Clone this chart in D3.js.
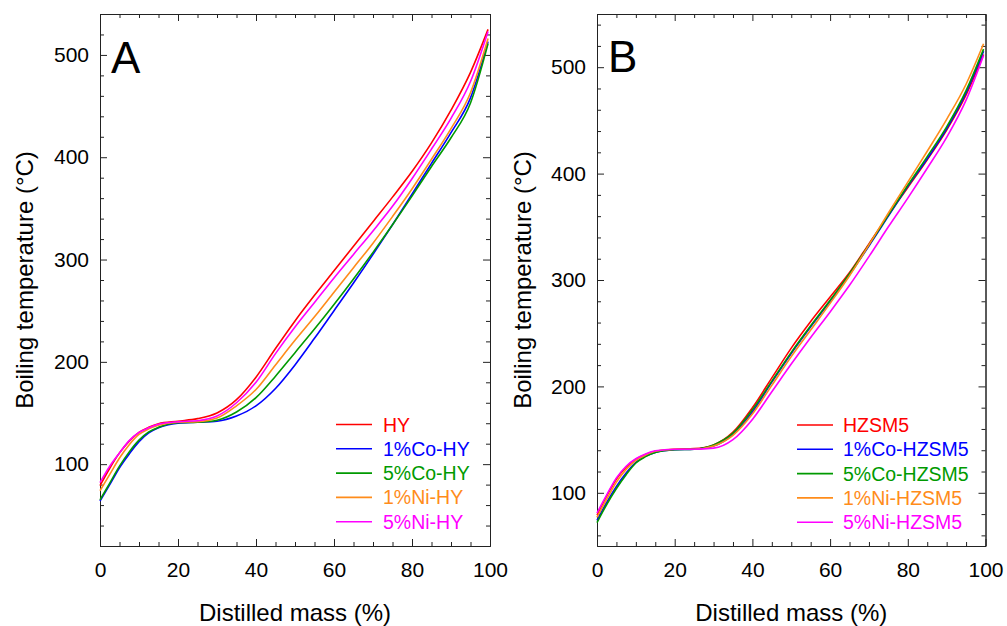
<!DOCTYPE html>
<html>
<head>
<meta charset="utf-8">
<script src="https://cdn.jsdelivr.net/npm/d3@7"></script>
<style>
  body { margin: 0; background: #fff; }
  svg { display: block; font-family: "Liberation Sans", Arial, sans-serif; }
</style>
</head>
<body>
<div class="canva"></div>
<script>
// distilled mass (%) sample points shared by all curves
const mass = [0, 2.5, 5, 7.5, 10, 12.5, 15, 20, 25, 30, 35, 40, 45, 50, 55, 60, 65, 70, 75, 80, 85, 90, 95, 99.5];

// panel A boiling temperatures (°C)
const hy    = [79, 96, 111, 122.5, 131, 136, 139.5, 142, 144.5, 150, 163, 185, 213, 240, 265, 289, 313, 337, 361, 386, 414, 446, 483, 525];
const co1Hy = [64, 80, 96.5, 110, 122, 130.5, 135.5, 140, 141, 142, 147, 157, 174, 197, 223, 250, 277, 305, 334, 364, 394, 424, 458, 513];
const co5Hy = [65, 81.5, 98, 112, 123.5, 131.5, 136, 140.5, 141, 143, 151, 165, 186, 209, 232, 256, 281, 307, 334, 362, 391, 419, 453, 511];
const ni1Hy = [74, 90, 106, 119, 129, 134.5, 138, 141, 141.5, 145, 157, 173, 197, 221, 244, 268, 292, 316, 342, 369, 398, 428, 463, 516];
const ni5Hy = [82, 98, 111, 123, 131, 135.5, 139, 141.5, 142.5, 147, 160, 180, 208, 234, 258, 282, 305, 328, 352, 379, 408, 438, 474, 523];

// panel B boiling temperatures (°C)
const hzsm5    = [79, 97, 113, 124, 131.5, 136, 139, 141, 141.5, 145, 157, 180, 208, 236, 261, 284, 307, 334, 361, 387, 413, 441, 474, 512];
const co1Hzsm5 = [74, 91, 106, 118.5, 128.5, 134.5, 138, 140.5, 141, 144, 155, 176, 204, 231, 256, 280, 305, 332, 360, 388, 414, 442, 476, 515];
const co5Hzsm5 = [72, 89, 104, 117, 128, 134, 138, 140.5, 141, 145, 156, 178, 205, 232, 257, 281, 306, 333, 361, 389, 416, 444, 478, 517];
const ni1Hzsm5 = [77, 94, 110, 122, 130.5, 135.5, 139, 141, 141, 144, 154, 174, 201, 228, 253, 278, 304, 333, 363, 392, 421, 451, 484, 522];
const ni5Hzsm5 = [81, 98, 114, 125, 132, 136.5, 139.5, 141, 141, 142, 150, 169, 195, 221, 246, 270, 295, 322, 350, 377, 405, 434, 469, 511];

const namesA = ["HY", "1%Co-HY", "5%Co-HY", "1%Ni-HY", "5%Ni-HY"];
const namesB = ["HZSM5", "1%Co-HZSM5", "5%Co-HZSM5", "1%Ni-HZSM5", "5%Ni-HZSM5"];
const colors = ["#ff0000", "#0000ff", "#009a00", "#ff8c1a", "#ff00ff"];

const xTicks = [0, 20, 40, 60, 80, 100];
const yTicks = [100, 200, 300, 400, 500];

const width = 1007, height = 626;
const font = "'Liberation Sans', Arial, sans-serif";

const svg = d3.select(".canva").append("svg")
    .attr("width", width)
    .attr("height", height)
    .attr("viewBox", [0, 0, width, height]);

const panels = [
    { letter: "A", left: 100, right: 490, top: 14, bottom: 546, yDomain: [20, 540],
      series: [hy, co1Hy, co5Hy, ni1Hy, ni5Hy], names: namesA,
      legend: { x: 336, y: 424.5, text: 383 }, ylabX: 33, letterX: 111, letterY: 73 },
    { letter: "B", left: 597, right: 985.5, top: 14, bottom: 546, yDomain: [50, 550],
      series: [hzsm5, co1Hzsm5, co5Hzsm5, ni1Hzsm5, ni5Hzsm5], names: namesB,
      legend: { x: 797, y: 425, text: 843 }, ylabX: 531, letterX: 608, letterY: 72 }
];

function styleAxis(g) {
    g.attr("font-family", font).attr("font-size", 21).attr("color", "#222");
    g.selectAll("text").attr("fill", "#000");
}

panels.forEach(p => {
    const x = d3.scaleLinear([0, 100], [p.left, p.right]);
    const y = d3.scaleLinear(p.yDomain, [p.bottom, p.top]);

    const minorX = d3.range(0, 101, 5).filter(v => v % 20 !== 0);
    const minorY = d3.range(Math.ceil(p.yDomain[0] / 20) * 20, p.yDomain[1] + 1, 20).filter(v => v % 100 !== 0);

    const g = svg.append("g");

    // bottom
    g.append("g").attr("transform", `translate(0,${p.bottom})`)
        .call(d3.axisBottom(x).tickValues(xTicks).tickSize(-7).tickSizeOuter(0).tickPadding(16))
        .call(styleAxis);
    g.append("g").attr("transform", `translate(0,${p.bottom})`)
        .call(d3.axisBottom(x).tickValues(minorX).tickSize(-4).tickSizeOuter(0).tickFormat(""))
        .call(styleAxis);
    // top
    g.append("g").attr("transform", `translate(0,${p.top})`)
        .call(d3.axisTop(x).tickValues(xTicks).tickSize(-7).tickSizeOuter(0).tickFormat(""))
        .call(styleAxis);
    g.append("g").attr("transform", `translate(0,${p.top})`)
        .call(d3.axisTop(x).tickValues(minorX).tickSize(-4).tickSizeOuter(0).tickFormat(""))
        .call(styleAxis);
    // left
    g.append("g").attr("transform", `translate(${p.left},0)`)
        .call(d3.axisLeft(y).tickValues(yTicks).tickSize(-7).tickSizeOuter(0).tickPadding(11))
        .call(styleAxis);
    g.append("g").attr("transform", `translate(${p.left},0)`)
        .call(d3.axisLeft(y).tickValues(minorY).tickSize(-4).tickSizeOuter(0).tickFormat(""))
        .call(styleAxis);
    // right
    g.append("g").attr("transform", `translate(${p.right},0)`)
        .call(d3.axisRight(y).tickValues(yTicks).tickSize(-7).tickSizeOuter(0).tickFormat(""))
        .call(styleAxis);
    g.append("g").attr("transform", `translate(${p.right},0)`)
        .call(d3.axisRight(y).tickValues(minorY).tickSize(-4).tickSizeOuter(0).tickFormat(""))
        .call(styleAxis);

    const line = d3.line()
        .x((d, i) => x(mass[i]))
        .y(d => y(d))
        .curve(d3.curveMonotoneX);

    g.append("g").selectAll("path")
        .data(p.series)
        .join("path")
        .attr("fill", "none")
        .attr("stroke", (d, i) => colors[i])
        .attr("stroke-width", 1.6)
        .attr("d", line);

    // legend
    const leg = g.append("g");
    p.names.forEach((name, i) => {
        const ly = p.legend.y + i * 24.3;
        leg.append("line")
            .attr("x1", p.legend.x).attr("x2", p.legend.x + 36)
            .attr("y1", ly).attr("y2", ly)
            .attr("stroke", colors[i]).attr("stroke-width", 1.6);
        leg.append("text")
            .attr("x", p.legend.text).attr("y", ly + 7)
            .attr("fill", colors[i])
            .attr("font-size", 19.5)
            .text(name);
    });

    // panel letter
    g.append("text")
        .attr("x", p.letterX).attr("y", p.letterY)
        .attr("font-size", 44)
        .text(p.letter);

    // axis titles
    g.append("text")
        .attr("x", (p.left + p.right) / 2).attr("y", 621)
        .attr("text-anchor", "middle")
        .attr("font-size", 24)
        .text("Distilled mass (%)");
    g.append("text")
        .attr("transform", `translate(${p.ylabX},${(p.top + p.bottom) / 2}) rotate(-90)`)
        .attr("text-anchor", "middle")
        .attr("font-size", 24)
        .text("Boiling temperature (°C)");
});
</script>
</body>
</html>
